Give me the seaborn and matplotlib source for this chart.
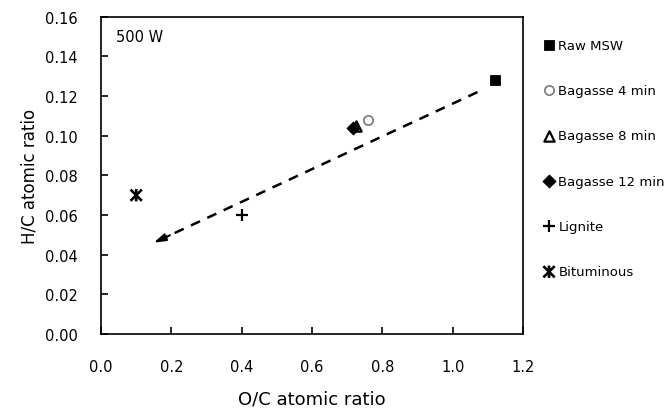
import matplotlib
matplotlib.use("Agg")
import matplotlib.pyplot as plt
from matplotlib.path import Path
import seaborn as sns
import pandas as pd

# data
samples = ["Raw MSW", "Bagasse 4 min", "Bagasse 8 min", "Bagasse 12 min", "Lignite", "Bituminous"]
oc_ratio = [1.12, 0.76, 0.725, 0.717, 0.40, 0.10]
hc_ratio = [0.128, 0.108, 0.105, 0.104, 0.060, 0.070]

# trend arrow (start -> end)
trend_x = [1.07, 0.15]
trend_y = [0.122, 0.046]

x_ticks = [0.0, 0.2, 0.4, 0.6, 0.8, 1.0, 1.2]
y_ticks = [0.00, 0.02, 0.04, 0.06, 0.08, 0.10, 0.12, 0.14, 0.16]

# X with a vertical bar, like the Excel "star" marker
star = Path([(-1, -1), (1, 1), (-1, 1), (1, -1), (0, -1.1), (0, 1.1)],
            [Path.MOVETO, Path.LINETO, Path.MOVETO, Path.LINETO, Path.MOVETO, Path.LINETO])

styles = {
    "Raw MSW": dict(marker="s", s=55, color="black", edgecolor="black"),
    "Bagasse 4 min": dict(marker="o", s=45, facecolor="white", edgecolor="#808080", linewidth=1.3),
    "Bagasse 8 min": dict(marker="^", s=55, facecolor="white", edgecolor="black", linewidth=1.6),
    "Bagasse 12 min": dict(marker="D", s=45, color="black", edgecolor="black"),
    "Lignite": dict(marker="+", s=70, color="black", linewidth=1.6),
    "Bituminous": dict(marker=star, s=80, facecolor="none", edgecolor="black", linewidth=1.9),
}

df = pd.DataFrame({"sample": samples, "oc": oc_ratio, "hc": hc_ratio})

sns.set_style("white")
plt.rcParams["font.family"] = ["DejaVu Sans"]
plt.rcParams.update({"text.color": "black", "axes.labelcolor": "black",
                     "xtick.color": "black", "ytick.color": "black"})

fig = plt.figure(figsize=(6.69, 4.14), dpi=100)
ax = fig.add_axes([0.151, 0.191, 0.631, 0.766])

for name in samples:
    sub = df[df["sample"] == name]
    sns.scatterplot(data=sub, x="oc", y="hc", ax=ax, label=name, zorder=3, **styles[name])

# dashed trend line plus a solid arrow head at its lower end
sns.lineplot(x=trend_x, y=trend_y, ax=ax, color="black", lw=1.8,
             linestyle=(0, (4, 3.2)), sort=False, legend=False)
head_from = (trend_x[1] + 0.05 * (trend_x[0] - trend_x[1]),
             trend_y[1] + 0.05 * (trend_y[0] - trend_y[1]))
ax.annotate("", xy=(trend_x[1], trend_y[1]), xytext=head_from,
            arrowprops=dict(arrowstyle="-|>,head_length=0.7,head_width=0.22",
                            lw=1.5, color="black", shrinkA=0, shrinkB=0))

ax.text(0.035, 0.96, "500 W", transform=ax.transAxes, fontsize=10.5, va="top")

ax.set_xlim(0, 1.2)
ax.set_ylim(0, 0.16)
ax.set_xticks(x_ticks)
ax.set_yticks(y_ticks)
ax.set_xticklabels([f"{t:.1f}" for t in x_ticks], fontsize=10.5)
ax.set_yticklabels([f"{t:.2f}" for t in y_ticks], fontsize=10.5)
ax.tick_params(axis="both", direction="in", length=5, width=1.2, left=True, bottom=True)
ax.tick_params(axis="x", pad=18)
ax.tick_params(axis="y", pad=17)
for sp in ax.spines.values():
    sp.set_color("black")
    sp.set_linewidth(1.2)

ax.set_xlabel("O/C atomic ratio", fontsize=13, labelpad=11)
ax.set_ylabel("H/C atomic ratio", fontsize=12, labelpad=4)

ax.legend(loc="upper left", bbox_to_anchor=(1.03, 0.948), frameon=False,
          fontsize=9.5, labelspacing=2.45, handletextpad=0.1, handlelength=1.2,
          borderaxespad=0)

fig.savefig("out.png", dpi=100)
